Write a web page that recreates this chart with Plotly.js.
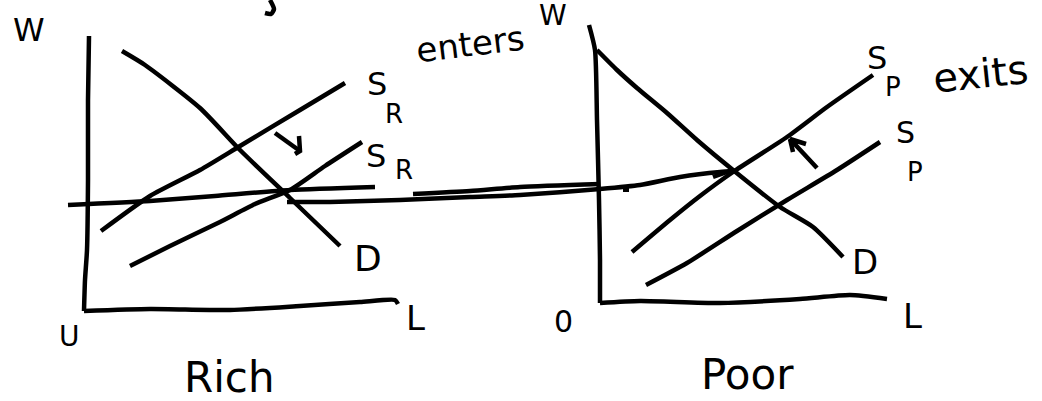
<!DOCTYPE html>
<html>
<head>
<meta charset="utf-8">
<script src="https://cdn.plot.ly/plotly-3.0.1.min.js"></script>
<style>html,body{margin:0;padding:0;background:#fff;}#chart{width:1042px;height:401px;}</style>
</head>
<body>
<div id="chart"></div>
<script>
// Sketch coordinates (x to the right, y downward)
// ---- Rich market ----
const richWageAxisX = [89, 88, 88, 87, 85, 84];
const richWageAxisY = [36, 100, 180, 250, 280, 311];
const richLaborAxisX = [84, 150, 230, 300, 360, 395, 398];
const richLaborAxisY = [311, 309, 310, 306, 302, 300, 304];
const richDemandX = [122, 145, 200, 240, 290, 340];
const richDemandY = [51, 65, 108, 150, 198, 246];
const richSupplyNewX = [101, 150, 200, 240, 300, 345];
const richSupplyNewY = [231, 196, 170, 146, 110, 83];
const richSupplyOldX = [130, 170, 220, 255, 290, 325, 362];
const richSupplyOldY = [266, 246, 222, 204, 190, 166, 142];
const richWageLineX = [68, 150, 215, 290, 375];
const richWageLineY = [205, 201, 196, 190, 187];
const shiftArrowRichX = [275, 300, null, 299, 300, 295];
const shiftArrowRichY = [133, 151, null, 136, 151, 154];
const topMarkX = [270, 274, 271, 265];
const topMarkY = [0, 9, 14, 13];
// ---- migration flow ----
const flowUpperX = [413, 470, 520, 600];
const flowUpperY = [194, 191, 187, 184];
const flowLowerX = [287, 330, 400, 470, 520, 600, 640, 680, 720, 735];
const flowLowerY = [202, 202, 200, 197, 195, 189, 185, 177, 172, 171];
const flowHeadX = [713, 730];
const flowHeadY = [177, 171];
const flowDotX = [626];
const flowDotY = [189];
// ---- Poor market ----
const poorWageAxisX = [589, 595, 597, 599, 600, 600];
const poorWageAxisY = [25, 50, 120, 200, 260, 303];
const poorLaborAxisX = [600, 640, 720, 800, 850, 887];
const poorLaborAxisY = [303, 301, 303, 299, 295, 299];
const poorDemandX = [597, 617, 637, 667, 697, 733, 780, 813, 843];
const poorDemandY = [50, 70, 88, 113, 140, 170, 207, 227, 257];
const poorSupplyNewX = [632, 670, 700, 733, 787, 827, 873];
const poorSupplyNewY = [252, 220, 196, 172, 137, 107, 75];
const poorSupplyOldX = [646, 687, 737, 787, 837, 880];
const poorSupplyOldY = [285, 263, 231, 200, 170, 142];
const shiftArrowPoorX = [817, 790, 806, null, 790, 793];
const shiftArrowPoorY = [168, 139, 144, null, 139, 152];

// ---- labels ----
const labelTexts = ["W", "U", "L", "Rich", "D", "S", "R", "S", "R", "enters",
                    "W", "0", "L", "Poor", "D", "S", "P", "exits", "S", "P"];
const labelX = [29, 69, 415, 229, 368, 377, 394, 376, 404, 470,
                553, 563, 912, 747, 865, 877, 893, 980, 905, 915];
const labelY = [30, 336, 318, 377, 258, 84, 114, 156, 170, 44,
                15, 321, 316, 374, 262, 58, 87, 74, 132, 172];
const labelSizes = [32, 28, 34, 42, 36, 32, 26, 32, 26, 34,
                    28, 30, 34, 42, 34, 32, 26, 40, 30, 26];
const labelAngles = [0, 0, 0, 0, 0, 0, 0, 0, 0, -7,
                     0, 0, 0, 0, 0, 0, 0, -6, 0, 0];

const curved = [
  [richWageAxisX, richWageAxisY], [richLaborAxisX, richLaborAxisY],
  [richDemandX, richDemandY], [richSupplyNewX, richSupplyNewY],
  [richSupplyOldX, richSupplyOldY], [richWageLineX, richWageLineY],
  [topMarkX, topMarkY],
  [flowUpperX, flowUpperY], [flowLowerX, flowLowerY],
  [poorWageAxisX, poorWageAxisY], [poorLaborAxisX, poorLaborAxisY],
  [poorDemandX, poorDemandY], [poorSupplyNewX, poorSupplyNewY],
  [poorSupplyOldX, poorSupplyOldY]
];
const straight = [
  [shiftArrowRichX, shiftArrowRichY], [flowHeadX, flowHeadY],
  [shiftArrowPoorX, shiftArrowPoorY]
];

const traces = curved.map(s => ({
  x: s[0], y: s[1], type: 'scatter', mode: 'lines',
  line: {color: '#000', width: 4.5, shape: 'spline', smoothing: 0.6},
  hoverinfo: 'skip', showlegend: false
})).concat(straight.map(s => ({
  x: s[0], y: s[1], type: 'scatter', mode: 'lines',
  line: {color: '#000', width: 4.5, shape: 'linear'},
  connectgaps: false, hoverinfo: 'skip', showlegend: false
})));
traces.push({x: flowDotX, y: flowDotY, type: 'scatter', mode: 'markers',
  marker: {color: '#000', size: 6, symbol: 'square'}, hoverinfo: 'skip', showlegend: false});

const annotations = labelTexts.map((t, i) => ({
  text: t, x: labelX[i], y: labelY[i], xref: 'x', yref: 'y',
  showarrow: false, textangle: labelAngles[i],
  xanchor: 'center', yanchor: 'middle',
  font: {family: 'DejaVu Sans', size: labelSizes[i], color: '#000'}
}));

const layout = {
  width: 1042, height: 401,
  margin: {l: 0, r: 0, t: 0, b: 0},
  paper_bgcolor: '#fff', plot_bgcolor: '#fff',
  xaxis: {range: [0, 1042], visible: false, fixedrange: true},
  yaxis: {range: [401, 0], visible: false, fixedrange: true},
  annotations: annotations,
  showlegend: false
};

Plotly.newPlot('chart', traces, layout, {displayModeBar: false, staticPlot: true});
</script>
</body>
</html>
